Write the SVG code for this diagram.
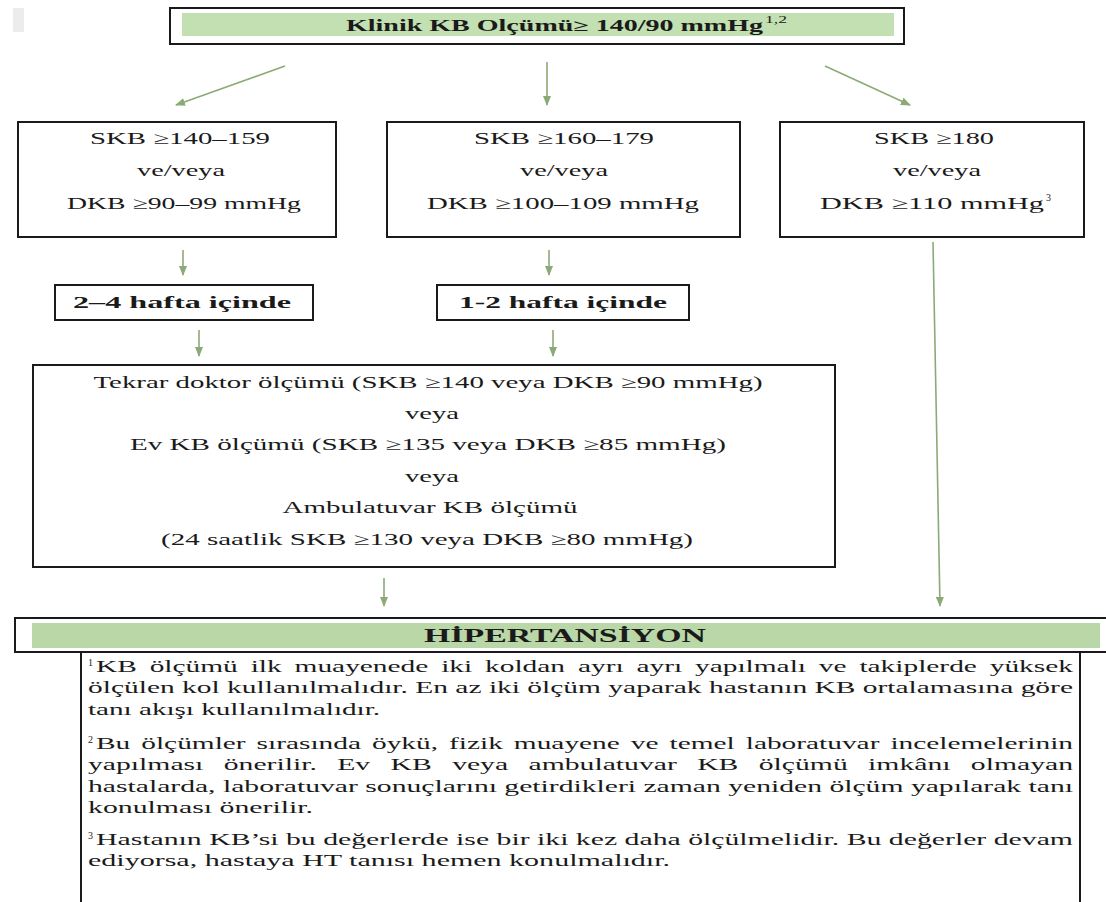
<svg xmlns="http://www.w3.org/2000/svg" width="1106" height="902" viewBox="0 0 1106 902">
<defs>
<marker id="ah" markerWidth="10" markerHeight="8" refX="9" refY="4" orient="auto" markerUnits="userSpaceOnUse"><path d="M0,0 L10,4 L0,8 z" fill="#8caa77"/></marker>
</defs>
<style>
.t{font-family:"Liberation Serif","Times New Roman",serif;font-size:16px;fill:#1a1a1a}
.f{font-size:17px}
.c{text-anchor:middle}
.b{font-weight:bold}
.box{fill:#fff;stroke:#1a1a1a;stroke-width:2}
.band{fill:#c3e0b2}
.band2{fill:#b9d7a7}
.sup{font-size:10px}
.ar{stroke:#8caa77;stroke-width:1.6;fill:none;marker-end:url(#ah)}
</style>
<rect x="0" y="0" width="1106" height="902" fill="#fff"/>
<rect x="13" y="8" width="11" height="24" fill="#ececec"/>

<g id="n-klinik">
<rect class="box" x="170" y="8" width="734" height="36" stroke-width="2.5"/>
<rect class="band" x="182" y="13" width="712" height="23"/>
<text class="t b" x="346" y="31" textLength="417" lengthAdjust="spacingAndGlyphs">Klinik KB Olçümü≥ 140/90 mmHg</text>
<text class="t sup" x="765" y="23" textLength="22" lengthAdjust="spacingAndGlyphs">1,2</text>
</g>

<g id="n-skb140">
<rect class="box" x="18" y="122" width="318" height="115"/>
<text class="t f c" x="180" y="144" textLength="180" lengthAdjust="spacingAndGlyphs">SKB ≥140–159</text>
<text class="t f c" x="181" y="176" textLength="88" lengthAdjust="spacingAndGlyphs">ve/veya</text>
<text class="t f c" x="184" y="209" textLength="234" lengthAdjust="spacingAndGlyphs">DKB ≥90–99 mmHg</text>
</g>

<g id="n-skb160">
<rect class="box" x="387" y="122" width="353" height="115"/>
<text class="t f c" x="564" y="144" textLength="180" lengthAdjust="spacingAndGlyphs">SKB ≥160–179</text>
<text class="t f c" x="564" y="176" textLength="88" lengthAdjust="spacingAndGlyphs">ve/veya</text>
<text class="t f c" x="563" y="209" textLength="272" lengthAdjust="spacingAndGlyphs">DKB ≥100–109 mmHg</text>
</g>

<g id="n-skb180">
<rect class="box" x="780" y="122" width="304" height="115"/>
<text class="t f c" x="934" y="144" textLength="120" lengthAdjust="spacingAndGlyphs">SKB ≥180</text>
<text class="t f c" x="937" y="176" textLength="88" lengthAdjust="spacingAndGlyphs">ve/veya</text>
<text class="t f" x="820" y="209" textLength="224" lengthAdjust="spacingAndGlyphs">DKB ≥110 mmHg</text>
<text class="t sup" x="1046" y="201">3</text>
</g>

<g id="n-24hafta">
<rect class="box" x="55" y="285" width="258" height="35"/>
<text class="t f b c" x="182" y="308" textLength="218" lengthAdjust="spacingAndGlyphs">2–4 hafta içinde</text>
</g>

<g id="n-12hafta">
<rect class="box" x="437" y="285" width="252" height="35"/>
<text class="t f b c" x="563" y="308" textLength="208" lengthAdjust="spacingAndGlyphs">1-2 hafta içinde</text>
</g>

<g id="n-olcum">
<rect class="box" x="33" y="365" width="802" height="202"/>
<text class="t f c" x="428" y="388" textLength="669" lengthAdjust="spacingAndGlyphs">Tekrar doktor ölçümü (SKB ≥140 veya DKB ≥90 mmHg)</text>
<text class="t f c" x="432" y="419" textLength="54" lengthAdjust="spacingAndGlyphs">veya</text>
<text class="t f c" x="428" y="450" textLength="596" lengthAdjust="spacingAndGlyphs">Ev KB ölçümü (SKB ≥135 veya DKB ≥85 mmHg)</text>
<text class="t f c" x="432" y="482" textLength="54" lengthAdjust="spacingAndGlyphs">veya</text>
<text class="t f c" x="430" y="513" textLength="295" lengthAdjust="spacingAndGlyphs">Ambulatuvar KB ölçümü</text>
<text class="t f c" x="427" y="545" textLength="532" lengthAdjust="spacingAndGlyphs">(24 saatlik SKB ≥130 veya DKB ≥80 mmHg)</text>
</g>

<g id="n-hipertansiyon">
<rect class="box" x="15" y="618" width="1100" height="34"/>
<rect class="band2" x="32" y="623" width="1068" height="25"/>
<text class="t b c" x="565" y="642" style="font-size:18px" textLength="282" lengthAdjust="spacingAndGlyphs">HİPERTANSİYON</text>
</g>

<g id="n-notlar">
<path d="M81,652 V902 M1080,652 V902" stroke="#1a1a1a" stroke-width="2" fill="none"/>
<text class="t sup" x="88" y="666">1</text>
<text class="t" x="96" y="672" style="word-spacing:3px" textLength="977" lengthAdjust="spacingAndGlyphs">KB ölçümü ilk muayenede iki koldan ayrı ayrı yapılmalı ve takiplerde yüksek</text>
<text class="t" x="88" y="693" textLength="985" lengthAdjust="spacingAndGlyphs">ölçülen kol kullanılmalıdır. En az iki ölçüm yaparak hastanın KB ortalamasına göre</text>
<text class="t" x="88" y="715" textLength="292" lengthAdjust="spacingAndGlyphs">tanı akışı kullanılmalıdır.</text>
<text class="t sup" x="88" y="743">2</text>
<text class="t" x="96" y="749" style="word-spacing:2px" textLength="977" lengthAdjust="spacingAndGlyphs">Bu ölçümler sırasında öykü, fizik muayene ve temel laboratuvar incelemelerinin</text>
<text class="t" x="88" y="770" style="word-spacing:7px" textLength="985" lengthAdjust="spacingAndGlyphs">yapılması önerilir. Ev KB veya ambulatuvar KB ölçümü imkânı olmayan</text>
<text class="t" x="88" y="792" textLength="985" lengthAdjust="spacingAndGlyphs">hastalarda, laboratuvar sonuçlarını getirdikleri zaman yeniden ölçüm yapılarak tanı</text>
<text class="t" x="88" y="813" textLength="225" lengthAdjust="spacingAndGlyphs">konulması önerilir.</text>
<text class="t sup" x="88" y="839">3</text>
<text class="t" x="96" y="845" textLength="977" lengthAdjust="spacingAndGlyphs">Hastanın KB’si bu değerlerde ise bir iki kez daha ölçülmelidir. Bu değerler devam</text>
<text class="t" x="88" y="866" textLength="582" lengthAdjust="spacingAndGlyphs">ediyorsa, hastaya HT tanısı hemen konulmalıdır.</text>
</g>

<g id="connectors">
<line class="ar" x1="285" y1="66" x2="176" y2="105"/>
<line class="ar" x1="547" y1="62" x2="547" y2="105"/>
<line class="ar" x1="825" y1="66" x2="910" y2="105"/>
<line class="ar" x1="183" y1="250" x2="183" y2="275"/>
<line class="ar" x1="549" y1="250" x2="549" y2="275"/>
<line class="ar" x1="199" y1="330" x2="199" y2="356"/>
<line class="ar" x1="553" y1="330" x2="553" y2="356"/>
<line class="ar" x1="384" y1="578" x2="384" y2="606"/>
<line class="ar" x1="933" y1="242" x2="940" y2="606"/>
</g>
</svg>
